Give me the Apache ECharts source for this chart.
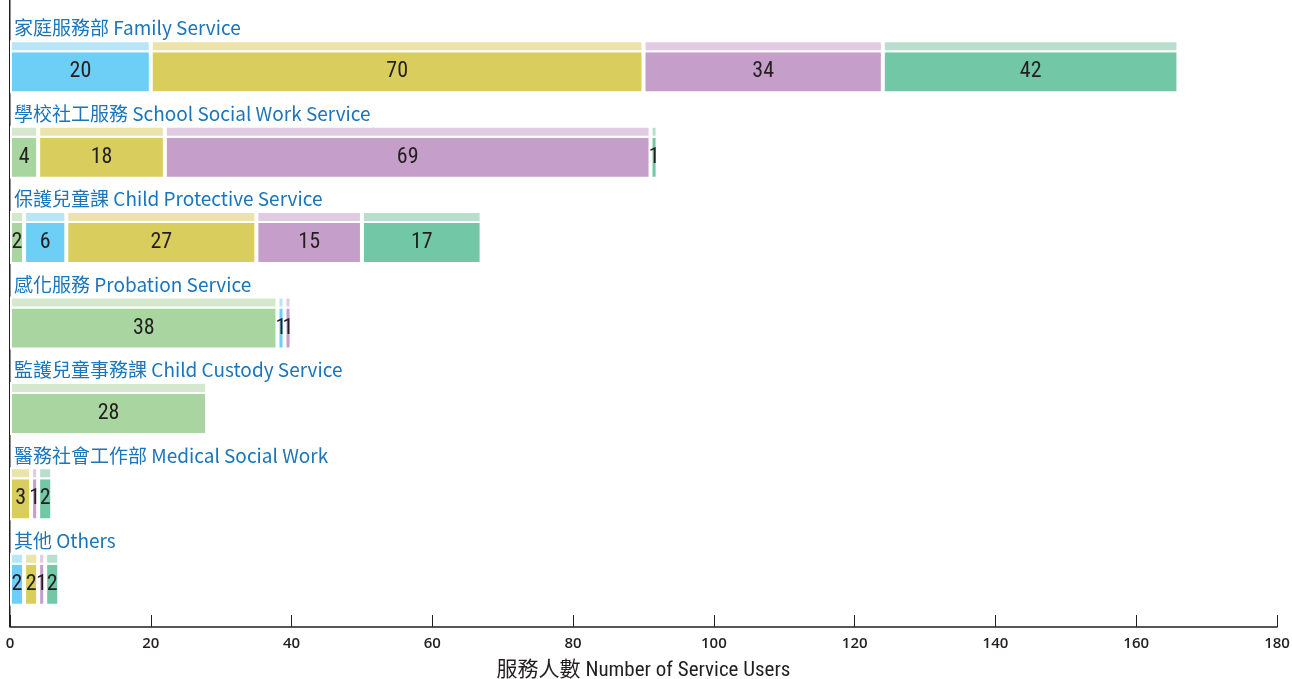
<!DOCTYPE html>
<html>
<head>
<meta charset="utf-8">
<style>
  html, body { margin: 0; padding: 0; background: #fff; }
  #chart { width: 1292px; height: 679px; }
</style>
<script src="https://cdn.jsdelivr.net/npm/echarts@6/dist/echarts.min.js"></script>
</head>
<body>
<div id="chart"></div>
<script>
// 服務單位
var categories = [
    '家庭服務部 Family Service',
    '學校社工服務 School Social Work Service',
    '保護兒童課 Child Protective Service',
    '感化服務 Probation Service',
    '監護兒童事務課 Child Custody Service',
    '醫務社會工作部 Medical Social Work',
    '其他 Others'
];

// 各組數值
var greenData  = [0, 4, 2, 38, 28, 0, 0];
var blueData   = [20, 0, 6, 1, 0, 0, 2];
var yellowData = [70, 18, 27, 0, 0, 3, 2];
var purpleData = [34, 69, 15, 1, 0, 1, 1];
var tealData   = [42, 1, 17, 0, 0, 2, 2];

var seriesData = [greenData, blueData, yellowData, purpleData, tealData];
var mainColors  = ['#a9d5a0', '#6dcff6', '#d9cd5e', '#c59fc9', '#71c7a6'];
var stripColors = ['#d3e8cd', '#b9e5f8', '#ebe3a9', '#e0cbe2', '#b8dfcd'];

var xTicks = { min: 0, max: 180, interval: 20 };

var myChart = echarts.init(document.getElementById('chart'));

function clean(arr) {
    return arr.map(function (v) { return v ? v : '-'; });
}

var series = [];
seriesData.forEach(function (d, i) {
    // 主條
    series.push({
        type: 'bar',
        stack: 'main',
        xAxisIndex: 0,
        yAxisIndex: 0,
        barWidth: 43,
        data: clean(d),
        itemStyle: { color: mainColors[i], borderColor: '#fff', borderWidth: 2 },
        label: {
            show: true,
            position: 'inside',
            color: '#231f20',
            fontFamily: '"Liberation Sans Narrow", "Roboto Condensed", "DejaVu Sans Condensed", sans-serif',
            fontSize: 22
        },
        emphasis: { disabled: true },
        silent: true
    });
    // 上方淺色條
    series.push({
        type: 'bar',
        stack: 'strip',
        xAxisIndex: 1,
        yAxisIndex: 1,
        barWidth: 12,
        data: clean(d),
        itemStyle: { color: stripColors[i], borderColor: '#fff', borderWidth: 2 },
        emphasis: { disabled: true },
        silent: true
    });
});

var option = {
    animation: false,
    grid: [
        { left: 10, right: 15, top: 29, height: 598, outerBoundsMode: 'none', containLabel: false },
        { left: 10, right: 15, top: 3.5, height: 598, outerBoundsMode: 'none', containLabel: false }
    ],
    xAxis: [
        {
            gridIndex: 0,
            type: 'value',
            min: xTicks.min, max: xTicks.max, interval: xTicks.interval,
            axisLine: { show: true, lineStyle: { color: '#231f20', width: 1.5 } },
            axisTick: { show: true, inside: true, length: 12, lineStyle: { color: '#231f20' } },
            axisLabel: {
                color: '#231f20', fontSize: 15, fontWeight: 600, margin: 9,
                fontFamily: '"Open Sans", "Noto Sans", sans-serif'
            },
            splitLine: { show: false },
            name: '服務人數 Number of Service Users',
            nameLocation: 'middle',
            nameGap: 33,
            nameTextStyle: {
                color: '#231f20', fontSize: 21,
                fontFamily: '"Liberation Sans Narrow", "Roboto Condensed", "Noto Sans CJK TC", sans-serif'
            }
        },
        { gridIndex: 1, type: 'value', min: 0, max: 180, show: false }
    ],
    yAxis: [
        {
            gridIndex: 0, type: 'category', inverse: true, data: categories,
            axisLine: { show: false }, axisTick: { show: false },
            axisLabel: {
                show: true, inside: true, margin: 4,
                verticalAlign: 'middle',
                formatter: function (v) { return '{a|' + v + '}\n{b| }'; },
                rich: {
                    a: {
                        color: '#1a75bc', fontSize: 19, lineHeight: 26,
                        fontFamily: '"Noto Sans CJK TC", "Noto Sans", sans-serif'
                    },
                    b: { fontSize: 10, lineHeight: 87 }
                }
            }
        },
        {
            gridIndex: 1, type: 'category', inverse: true, data: categories,
            axisLine: { show: false }, axisTick: { show: false }, axisLabel: { show: false }
        }
    ],
    graphic: [
        {
            type: 'rect',
            left: 9, top: 0,
            shape: { width: 1.5, height: 627 },
            style: { fill: '#231f20' },
            silent: true
        }
    ],
    series: series
};

myChart.setOption(option);
</script>
</body>
</html>
